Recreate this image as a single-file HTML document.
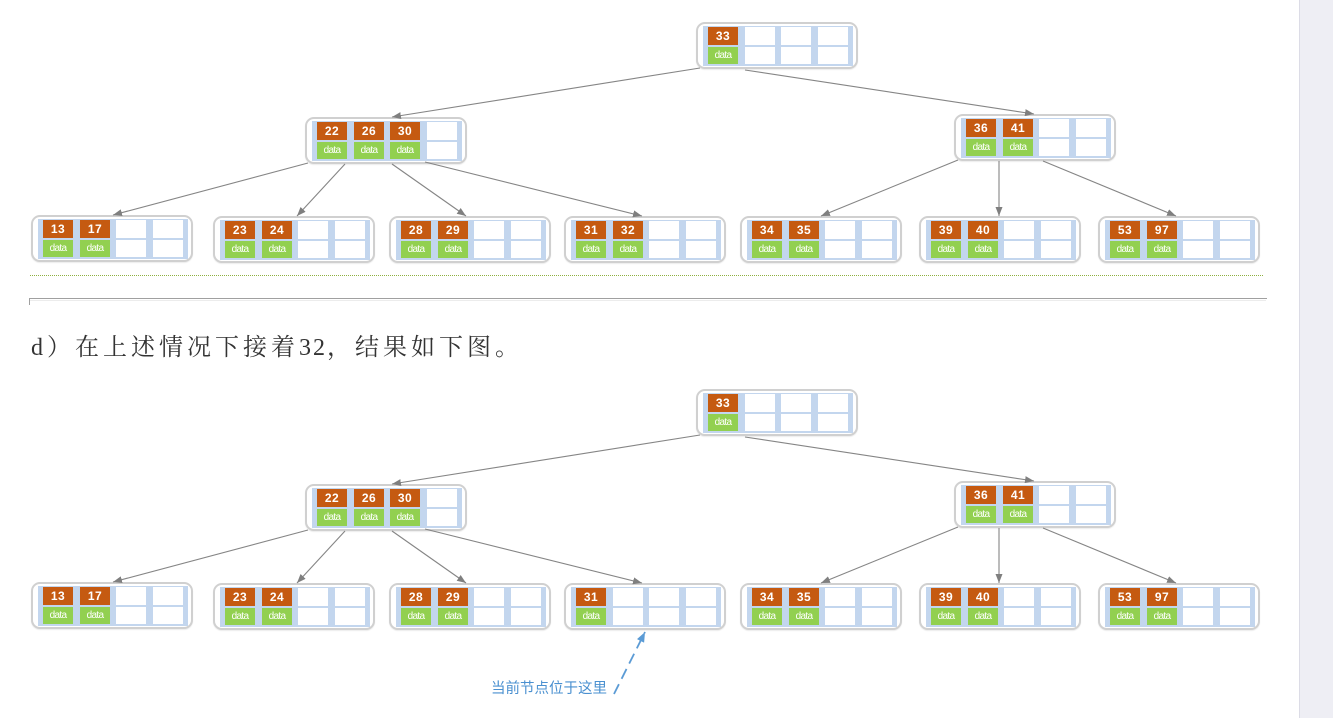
<!DOCTYPE html>
<html><head><meta charset="utf-8">
<style>
html,body{margin:0;padding:0;background:#fff;}
body{width:1333px;height:718px;position:relative;overflow:hidden;}
.n{position:absolute;width:158px;height:43px;border:2px solid #d0d0d0;border-radius:9px;background:#fff;box-shadow:0 1px 1px rgba(0,0,0,0.08);}
.s{position:absolute;left:5px;top:2px;width:150px;height:40px;background:#c3d6ee;}
.c{position:absolute;width:30px;text-align:center;color:#fff;}
.t{top:3px;height:18px;}
.b{top:23px;height:17px;}
.k{background:#c55a11;font:bold 12px/18px "Liberation Sans",sans-serif;letter-spacing:0.5px;}
.g{background:#92d050;font:10px/17px "Liberation Sans",sans-serif;letter-spacing:-0.7px;}
.w{background:#fff;}
.c1{left:10px}.c2{left:47px}.c3{left:83px}.c4{left:120px}
#side{position:absolute;left:1299px;top:0;width:34px;height:718px;background:#eeeef4;border-left:1px solid #dcdce6;}
#dot{position:absolute;left:30px;top:275px;width:1233px;height:0;border-top:1px dotted #8fb040;}
#box{position:absolute;left:29px;top:298px;width:1237px;height:6px;border-top:1px solid #a0a0a0;border-left:1px solid #a0a0a0;}
#box2{position:absolute;left:30px;top:300px;width:1236px;height:0;border-top:1px solid #ececec;}
#txt{position:absolute;left:31px;top:336px;font:24px/24px "Liberation Serif","Noto Serif CJK SC",serif;letter-spacing:4px;color:#333;white-space:nowrap;}
#lbl{position:absolute;left:491px;top:680px;font:14.5px/18px "Liberation Sans","Noto Sans CJK SC",sans-serif;color:#4a90d0;white-space:nowrap;}
svg{position:absolute;left:0;top:0;}
</style></head><body>
<div id="side"></div>

<!-- TOP TREE -->
<div class="n" style="left:696px;top:22px"><div class="s"></div>
<div class="c t k c1">33</div><div class="c b g c1">data</div>
<div class="c t w c2"></div><div class="c b w c2"></div>
<div class="c t w c3"></div><div class="c b w c3"></div>
<div class="c t w c4"></div><div class="c b w c4"></div></div>

<div class="n" style="left:305px;top:117px"><div class="s"></div>
<div class="c t k c1">22</div><div class="c b g c1">data</div>
<div class="c t k c2">26</div><div class="c b g c2">data</div>
<div class="c t k c3">30</div><div class="c b g c3">data</div>
<div class="c t w c4"></div><div class="c b w c4"></div></div>

<div class="n" style="left:954px;top:114px"><div class="s"></div>
<div class="c t k c1">36</div><div class="c b g c1">data</div>
<div class="c t k c2">41</div><div class="c b g c2">data</div>
<div class="c t w c3"></div><div class="c b w c3"></div>
<div class="c t w c4"></div><div class="c b w c4"></div></div>

<div class="n" style="left:31px;top:215px"><div class="s"></div>
<div class="c t k c1">13</div><div class="c b g c1">data</div>
<div class="c t k c2">17</div><div class="c b g c2">data</div>
<div class="c t w c3"></div><div class="c b w c3"></div>
<div class="c t w c4"></div><div class="c b w c4"></div></div>

<div class="n" style="left:213px;top:216px"><div class="s"></div>
<div class="c t k c1">23</div><div class="c b g c1">data</div>
<div class="c t k c2">24</div><div class="c b g c2">data</div>
<div class="c t w c3"></div><div class="c b w c3"></div>
<div class="c t w c4"></div><div class="c b w c4"></div></div>

<div class="n" style="left:389px;top:216px"><div class="s"></div>
<div class="c t k c1">28</div><div class="c b g c1">data</div>
<div class="c t k c2">29</div><div class="c b g c2">data</div>
<div class="c t w c3"></div><div class="c b w c3"></div>
<div class="c t w c4"></div><div class="c b w c4"></div></div>

<div class="n" style="left:564px;top:216px"><div class="s"></div>
<div class="c t k c1">31</div><div class="c b g c1">data</div>
<div class="c t k c2">32</div><div class="c b g c2">data</div>
<div class="c t w c3"></div><div class="c b w c3"></div>
<div class="c t w c4"></div><div class="c b w c4"></div></div>

<div class="n" style="left:740px;top:216px"><div class="s"></div>
<div class="c t k c1">34</div><div class="c b g c1">data</div>
<div class="c t k c2">35</div><div class="c b g c2">data</div>
<div class="c t w c3"></div><div class="c b w c3"></div>
<div class="c t w c4"></div><div class="c b w c4"></div></div>

<div class="n" style="left:919px;top:216px"><div class="s"></div>
<div class="c t k c1">39</div><div class="c b g c1">data</div>
<div class="c t k c2">40</div><div class="c b g c2">data</div>
<div class="c t w c3"></div><div class="c b w c3"></div>
<div class="c t w c4"></div><div class="c b w c4"></div></div>

<div class="n" style="left:1098px;top:216px"><div class="s"></div>
<div class="c t k c1">53</div><div class="c b g c1">data</div>
<div class="c t k c2">97</div><div class="c b g c2">data</div>
<div class="c t w c3"></div><div class="c b w c3"></div>
<div class="c t w c4"></div><div class="c b w c4"></div></div>

<div id="dot"></div>
<div id="box"></div>
<div id="box2"></div>

<div id="txt">d）在上述情况下接着<span style="letter-spacing:2px">32</span>，结果如下图。</div>

<!-- BOTTOM TREE -->
<div class="n" style="left:696px;top:389px"><div class="s"></div>
<div class="c t k c1">33</div><div class="c b g c1">data</div>
<div class="c t w c2"></div><div class="c b w c2"></div>
<div class="c t w c3"></div><div class="c b w c3"></div>
<div class="c t w c4"></div><div class="c b w c4"></div></div>

<div class="n" style="left:305px;top:484px"><div class="s"></div>
<div class="c t k c1">22</div><div class="c b g c1">data</div>
<div class="c t k c2">26</div><div class="c b g c2">data</div>
<div class="c t k c3">30</div><div class="c b g c3">data</div>
<div class="c t w c4"></div><div class="c b w c4"></div></div>

<div class="n" style="left:954px;top:481px"><div class="s"></div>
<div class="c t k c1">36</div><div class="c b g c1">data</div>
<div class="c t k c2">41</div><div class="c b g c2">data</div>
<div class="c t w c3"></div><div class="c b w c3"></div>
<div class="c t w c4"></div><div class="c b w c4"></div></div>

<div class="n" style="left:31px;top:582px"><div class="s"></div>
<div class="c t k c1">13</div><div class="c b g c1">data</div>
<div class="c t k c2">17</div><div class="c b g c2">data</div>
<div class="c t w c3"></div><div class="c b w c3"></div>
<div class="c t w c4"></div><div class="c b w c4"></div></div>

<div class="n" style="left:213px;top:583px"><div class="s"></div>
<div class="c t k c1">23</div><div class="c b g c1">data</div>
<div class="c t k c2">24</div><div class="c b g c2">data</div>
<div class="c t w c3"></div><div class="c b w c3"></div>
<div class="c t w c4"></div><div class="c b w c4"></div></div>

<div class="n" style="left:389px;top:583px"><div class="s"></div>
<div class="c t k c1">28</div><div class="c b g c1">data</div>
<div class="c t k c2">29</div><div class="c b g c2">data</div>
<div class="c t w c3"></div><div class="c b w c3"></div>
<div class="c t w c4"></div><div class="c b w c4"></div></div>

<div class="n" style="left:564px;top:583px"><div class="s"></div>
<div class="c t k c1">31</div><div class="c b g c1">data</div>
<div class="c t w c2"></div><div class="c b w c2"></div>
<div class="c t w c3"></div><div class="c b w c3"></div>
<div class="c t w c4"></div><div class="c b w c4"></div></div>

<div class="n" style="left:740px;top:583px"><div class="s"></div>
<div class="c t k c1">34</div><div class="c b g c1">data</div>
<div class="c t k c2">35</div><div class="c b g c2">data</div>
<div class="c t w c3"></div><div class="c b w c3"></div>
<div class="c t w c4"></div><div class="c b w c4"></div></div>

<div class="n" style="left:919px;top:583px"><div class="s"></div>
<div class="c t k c1">39</div><div class="c b g c1">data</div>
<div class="c t k c2">40</div><div class="c b g c2">data</div>
<div class="c t w c3"></div><div class="c b w c3"></div>
<div class="c t w c4"></div><div class="c b w c4"></div></div>

<div class="n" style="left:1098px;top:583px"><div class="s"></div>
<div class="c t k c1">53</div><div class="c b g c1">data</div>
<div class="c t k c2">97</div><div class="c b g c2">data</div>
<div class="c t w c3"></div><div class="c b w c3"></div>
<div class="c t w c4"></div><div class="c b w c4"></div></div>

<div id="lbl">当前节点位于这里</div>

<svg width="1333" height="718" viewBox="0 0 1333 718">
<defs>
<marker id="a" markerUnits="userSpaceOnUse" markerWidth="9" markerHeight="7" refX="9" refY="3.5" orient="auto">
<path d="M0,0 L9,3.5 L0,7 z" fill="#7f7f7f"/>
</marker>
<marker id="ab" markerUnits="userSpaceOnUse" markerWidth="10" markerHeight="8" refX="10" refY="4" orient="auto">
<path d="M0,0 L10,4 L0,8 z" fill="#5b9bd5"/>
</marker>
</defs>
<g stroke="#858585" stroke-width="1.1" fill="none" marker-end="url(#a)">
<path d="M700,68 L392,117"/>
<path d="M745,70 L1034,114"/>
<path d="M308,163 L113,215"/>
<path d="M345,164 L297,216"/>
<path d="M392,164 L466,216"/>
<path d="M425,162 L642,216"/>
<path d="M958,160 L821,216"/>
<path d="M999,161 L999,216"/>
<path d="M1043,161 L1176,216"/>

<path d="M700,435 L392,484"/>
<path d="M745,437 L1034,481"/>
<path d="M308,530 L113,582"/>
<path d="M345,531 L297,583"/>
<path d="M392,531 L466,583"/>
<path d="M425,529 L642,583"/>
<path d="M958,527 L821,583"/>
<path d="M999,528 L999,583"/>
<path d="M1043,528 L1176,583"/>
</g>
<path d="M614,694 L645,632" stroke="#5b9bd5" stroke-width="1.8" stroke-dasharray="11,6" fill="none" marker-end="url(#ab)"/>
</svg>
</body></html>
